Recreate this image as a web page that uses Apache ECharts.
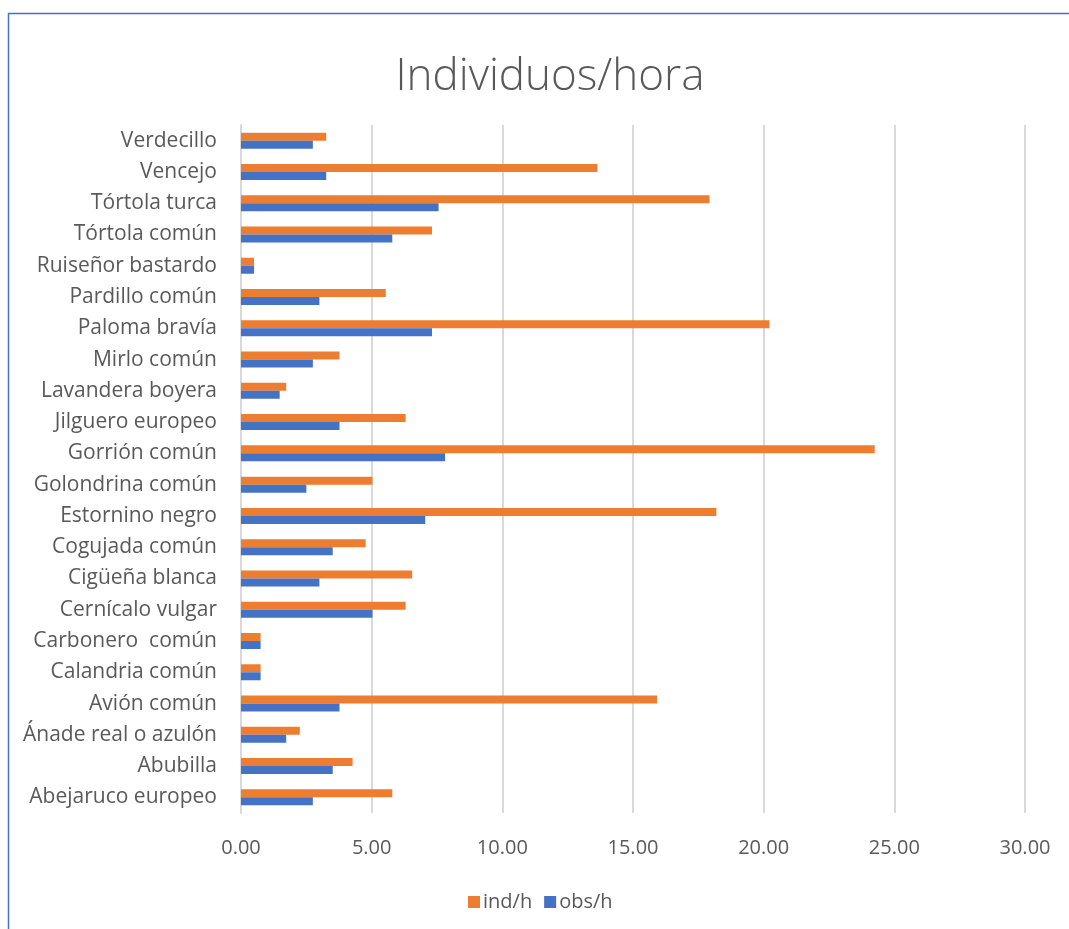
<!DOCTYPE html>
<html>
<head>
<meta charset="utf-8">
<title>Individuos/hora</title>
<script src="https://cdn.jsdelivr.net/npm/echarts@6/dist/echarts.min.js"></script>
<style>
  html, body { margin: 0; padding: 0; background: #fff; }
  #chart { width: 1069px; height: 929px; }
</style>
</head>
<body>
<div id="chart"></div>
<script>
// Species, listed bottom to top as they appear on the category axis
const categories = [
  'Abejaruco europeo', 'Abubilla', 'Ánade real o azulón', 'Avión común',
  'Calandria común', 'Carbonero  común', 'Cernícalo vulgar', 'Cigüeña blanca',
  'Cogujada común', 'Estornino negro', 'Golondrina común', 'Gorrión común',
  'Jilguero europeo', 'Lavandera boyera', 'Mirlo común', 'Paloma bravía',
  'Pardillo común', 'Ruiseñor bastardo', 'Tórtola común', 'Tórtola turca',
  'Vencejo', 'Verdecillo'
];

// Individuals per hour
const indH = [
  5.79, 4.27, 2.25, 15.92,
  0.75, 0.75, 6.30, 6.55,
  4.77, 18.19, 5.03, 24.25,
  6.30, 1.73, 3.77, 20.22,
  5.54, 0.50, 7.31, 17.93,
  13.63, 3.26
];

// Observations per hour
const obsH = [
  2.75, 3.51, 1.73, 3.77,
  0.75, 0.75, 5.03, 3.00,
  3.51, 7.05, 2.50, 7.81,
  3.77, 1.48, 2.75, 7.31,
  3.00, 0.50, 5.79, 7.56,
  3.26, 2.75
];

const seriesNames = ['ind/h', 'obs/h'];
const xMin = 0, xMax = 30, xStep = 5;

const FONT = '"Open Sans", "Noto Sans", sans-serif';
const TEXT = '#595959';
const GRID = '#d9d9d9';

const chart = echarts.init(document.getElementById('chart'), null, { renderer: 'canvas' });

chart.setOption({
  backgroundColor: '#ffffff',
  animation: false,
  textStyle: { fontFamily: FONT },
  // chart-area frame (only its left and top edges fall inside the page)
  graphic: [{
    type: 'rect',
    silent: true,
    shape: { x: 8.5, y: 13.5, width: 1200, height: 1200 },
    style: { fill: 'none', stroke: '#4472C4', lineWidth: 1.5 }
  }],
  title: {
    text: 'Individuos/hora',
    left: 545,
    textAlign: 'center',
    top: 50,
    textStyle: { fontFamily: FONT, fontSize: 44, fontWeight: 300, color: TEXT }
  },
  legend: {
    data: seriesNames,
    bottom: 12,
    left: 463,
    itemWidth: 12,
    itemHeight: 12,
    itemGap: 12,
    icon: 'rect',
    textStyle: { fontFamily: FONT, fontSize: 20, color: TEXT, padding: [0, 0, 0, -2] }
  },
  grid: { left: 241, right: 44, top: 125, bottom: 116, containLabel: false },
  xAxis: {
    type: 'value',
    min: xMin,
    max: xMax,
    interval: xStep,
    axisLine: { show: false },
    axisTick: { show: false },
    splitLine: { show: true, lineStyle: { color: GRID, width: 2 } },
    axisLabel: {
      margin: 25,
      fontFamily: FONT,
      fontSize: 20,
      color: TEXT,
      formatter: v => v.toFixed(2)
    }
  },
  yAxis: {
    type: 'category',
    data: categories,
    axisLine: { show: true, lineStyle: { color: GRID, width: 2 } },
    axisTick: { show: false },
    axisLabel: { margin: 24, fontFamily: FONT, fontSize: 21, color: TEXT, padding: [3, 0, 0, 0] }
  },
  series: [
    {
      name: 'ind/h',
      type: 'bar',
      data: indH,
      barWidth: 8,
      barGap: '0%',
      itemStyle: { color: '#ED7D31' }
    },
    {
      name: 'obs/h',
      type: 'bar',
      data: obsH,
      barWidth: 8,
      barGap: '0%',
      itemStyle: { color: '#4472C4' }
    }
  ]
});
</script>
</body>
</html>
